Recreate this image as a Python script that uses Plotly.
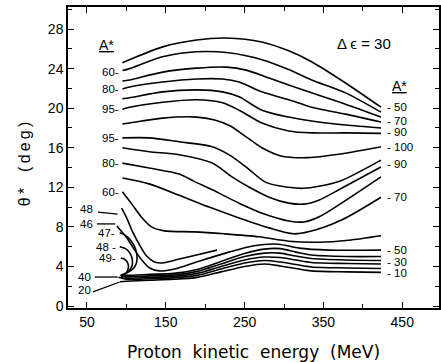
import plotly.graph_objects as go

# ---------------- data (x: proton kinetic energy MeV, y: theta* deg) ----------------
# upper family
x_c1 = [95, 104, 146, 189, 227, 272, 306, 335, 378, 423]
y_c1 = [24.6, 24.9, 26.2, 26.9, 27.1, 26.7, 25.8, 24.7, 22.55, 20.1]
x_c2 = [95, 104, 146, 189, 230, 272, 306, 335, 378, 423]
y_c2 = [23.8, 24.0, 25.2, 25.7, 25.6, 24.9, 23.9, 22.85, 21.55, 19.6]
x_c3 = [95, 104, 146, 189, 227, 252, 281, 306, 335, 378, 423]
y_c3 = [22.75, 22.85, 23.65, 24.05, 24.15, 23.85, 23.05, 22.35, 21.55, 20.4, 19.1]
x_c4 = [95, 104, 146, 189, 222, 243, 272, 306, 335, 378, 423]
y_c4 = [21.95, 22.15, 22.65, 22.95, 22.95, 22.65, 21.65, 20.85, 20.1, 19.4, 18.6]
x_c5 = [95, 104, 146, 189, 222, 243, 272, 306, 335, 378, 423]
y_c5 = [20.95, 21.05, 21.65, 21.85, 21.65, 21.15, 19.8, 19.1, 18.7, 18.3, 18.0]
x_c6 = [95, 104, 146, 189, 222, 243, 272, 306, 335, 378, 423]
y_c6 = [19.9, 20.1, 20.6, 20.85, 20.55, 19.8, 18.5, 17.7, 17.5, 17.5, 17.45]
# middle (U-shaped) family
x_c7 = [95, 104, 146, 189, 212, 232, 252, 272, 295, 330, 378, 423]
y_c7 = [18.4, 18.5, 19.0, 19.1, 18.8, 18.2, 17.1, 16.0, 15.2, 15.0, 15.45, 16.1]
x_c8 = [95, 129, 167, 209, 230, 252, 277, 306, 325, 344, 373, 423]
y_c8 = [17.0, 17.0, 16.6, 16.1, 15.3, 14.05, 12.5, 12.0, 11.9, 12.1, 12.7, 14.75]
x_c9 = [95, 129, 167, 209, 234, 256, 281, 306, 325, 344, 373, 423]
y_c9 = [16.0, 15.6, 15.3, 14.45, 13.05, 12.0, 11.0, 10.4, 10.3, 10.7, 11.9, 14.05]
x_c10 = [95, 129, 167, 186, 209, 243, 275, 306, 325, 344, 373, 423]
y_c10 = [14.45, 13.95, 13.35, 12.6, 11.75, 10.4, 9.3, 8.6, 8.5, 9.0, 10.4, 13.05]
x_c11 = [95, 129, 167, 205, 243, 281, 312, 331, 373, 423]
y_c11 = [12.95, 12.35, 11.2, 10.0, 8.9, 7.9, 7.3, 7.5, 8.7, 11.0]
x_c12 = [95, 107, 119, 132, 148, 186, 224, 268, 306, 344, 382, 423]
y_c12 = [11.55, 10.3, 9.0, 8.0, 7.6, 7.5, 7.3, 7.0, 6.55, 6.45, 6.65, 7.1]
# lower family
x_48a = [94, 100.5, 108, 117, 125.7, 135.8, 145.9, 167, 189, 215]
y_48a = [9.9, 8.9, 7.5, 6.15, 5.05, 4.45, 4.35, 4.75, 5.15, 5.65]
x_46 = [88, 100.5, 110.6, 120.7, 129.5, 142, 161, 189, 230, 262, 293, 319, 357, 423]
y_46 = [8.1, 6.9, 5.65, 4.55, 3.85, 3.55, 3.75, 4.45, 5.45, 6.1, 6.25, 5.85, 5.65, 5.65]
x_47 = [91.6, 99, 106, 111, 113.5, 113, 109.5, 103, 96, 93, 100, 130, 160, 190, 220, 250, 275, 295, 315, 335, 380, 423]
y_47 = [7.4, 7.15, 6.6, 5.9, 5.1, 4.4, 3.85, 3.45, 3.2, 3.15, 3.1, 3.2, 3.3, 3.7, 4.5, 5.3, 5.75, 5.8, 5.45, 5.15, 5.0, 5.0]
x_48b = [91.6, 99, 104.5, 107.5, 107.5, 104, 98, 93.5, 100, 130, 160, 190, 220, 250, 275, 295, 315, 335, 380, 423]
y_48b = [6.0, 5.8, 5.35, 4.75, 4.15, 3.6, 3.25, 3.05, 2.95, 3.05, 3.15, 3.5, 4.25, 5.0, 5.35, 5.35, 5.05, 4.8, 4.65, 4.6]
x_49 = [92.9, 98.5, 102, 102.5, 99.5, 95, 93.5, 100, 130, 160, 190, 220, 250, 275, 295, 315, 335, 380, 423]
y_49 = [4.85, 4.7, 4.3, 3.8, 3.3, 3.0, 2.9, 2.8, 2.9, 3.0, 3.3, 4.0, 4.65, 4.95, 4.9, 4.65, 4.4, 4.3, 4.25]
x_40 = [90, 100, 130, 160, 190, 220, 250, 275, 295, 315, 335, 380, 423]
y_40 = [2.9, 2.7, 2.75, 2.85, 3.1, 3.75, 4.35, 4.6, 4.45, 4.2, 3.95, 3.85, 3.8]
x_20 = [92, 100, 130, 160, 190, 220, 250, 275, 295, 315, 335, 380, 423]
y_20 = [2.45, 2.5, 2.6, 2.7, 2.9, 3.45, 4.0, 4.25, 4.05, 3.8, 3.55, 3.45, 3.4]

curves = [
    (x_c1, y_c1), (x_c2, y_c2), (x_c3, y_c3), (x_c4, y_c4), (x_c5, y_c5), (x_c6, y_c6),
    (x_c7, y_c7), (x_c8, y_c8), (x_c9, y_c9), (x_c10, y_c10), (x_c11, y_c11), (x_c12, y_c12),
    (x_48a, y_48a), (x_46, y_46), (x_47, y_47), (x_48b, y_48b), (x_49, y_49),
    (x_40, y_40), (x_20, y_20),
]

# curve labels
left_labels = ["60-", "80-", "95-", "95-", "80-", "60-", "47-", "48 -", "49-"]
left_label_x = [93, 93, 93, 93, 93, 93, 88, 89, 89]
left_label_y = [23.66, 21.94, 19.92, 16.99, 14.46, 11.53, 7.35, 5.97, 4.85]
lead_labels = ["48", "46", "40", "20"]
lead_label_x = [49, 49, 46.5, 46.5]
lead_label_y = [9.8, 8.3, 2.93, 1.57]
lead_x0 = [64, 62.6, 60, 57.6]
lead_y0 = [9.5, 8.3, 2.93, 1.42]
lead_x1 = [89, 86, 89, 91.6]
lead_y1 = [9.3, 8.3, 2.93, 2.43]
right_labels = ["- 50", "- 70", "- 90", "- 100", "- 90", "- 70", "- 50", "- 30", "- 10"]
right_label_y = [20.12, 18.7, 17.6, 16.08, 14.36, 11.02, 5.66, 4.45, 3.34]
right_label_x = 428

x_ticks = [50, 150, 250, 350, 450]
x_minor = [100, 200, 300, 400]
y_ticks = [0, 4, 8, 12, 16, 20, 24, 28]
y_minor = [2, 6, 10, 14, 18, 22, 26, 30]

FONT = "Liberation Sans, Arial, sans-serif"

fig = go.Figure()
for xs, ys in curves:
    fig.add_trace(go.Scatter(x=xs, y=ys, mode="lines",
                             line=dict(color="black", width=1.6, shape="spline", smoothing=0.8),
                             hoverinfo="skip", showlegend=False))

for t, x, y in zip(left_labels, left_label_x, left_label_y):
    fig.add_annotation(x=x, y=y, text=t, showarrow=False, xanchor="right", yanchor="middle",
                       font=dict(size=11.5, family=FONT, color="black"))
for t, x, y in zip(lead_labels, lead_label_x, lead_label_y):
    fig.add_annotation(x=x, y=y, text=t, showarrow=False, xanchor="center", yanchor="middle",
                       font=dict(size=11.5, family=FONT, color="black"))
for x0, y0, x1, y1 in zip(lead_x0, lead_y0, lead_x1, lead_y1):
    fig.add_shape(type="line", x0=x0, y0=y0, x1=x1, y1=y1, line=dict(color="black", width=1.3))
for t, y in zip(right_labels, right_label_y):
    fig.add_annotation(x=right_label_x, y=y, text=t, showarrow=False, xanchor="left", yanchor="middle",
                       font=dict(size=11.5, family=FONT, color="black"))

fig.add_annotation(x=75, y=26.4, text="<u>A*</u>", showarrow=False,
                   font=dict(size=14, family=FONT, color="black"))
fig.add_annotation(x=447, y=22.2, text="<u>A*</u>", showarrow=False,
                   font=dict(size=14, family=FONT, color="black"))
fig.add_annotation(x=401, y=26.5, text="Δ ϵ = 30", showarrow=False,
                   font=dict(size=15, family=FONT, color="black"))

fig.add_annotation(xref="paper", yref="paper", x=-0.145, y=0.48,
                   text="θ\u2009*\u2003(\u2009d\u2009e\u2009g\u2009)",
                   textangle=-90, showarrow=False, font=dict(size=16, family=FONT, color="black"))
fig.add_annotation(xref="paper", yref="paper", x=0.5, y=-0.146, yanchor="middle",
                   text="Proton  kinetic  energy  (MeV)", showarrow=False,
                   font=dict(size=17, family="DejaVu Sans", color="black"))

axis_common = dict(showgrid=False, zeroline=False, showline=True, linecolor="black", linewidth=1.5,
                   mirror="ticks", ticks="inside", ticklen=6, tickwidth=1.3, tickcolor="black",
                   tickfont=dict(size=14, family=FONT, color="black"))
fig.update_xaxes(range=[26, 496.6], tickvals=x_ticks,
                 minor=dict(tickvals=x_minor, ticks="inside", ticklen=4, tickcolor="black", tickwidth=1.2),
                 **axis_common)
fig.update_yaxes(range=[-0.2, 30.23], tickvals=y_ticks,
                 minor=dict(tickvals=y_minor, ticks="inside", ticklen=4, tickcolor="black", tickwidth=1.2),
                 **axis_common)
fig.update_layout(width=441, height=362, margin=dict(l=68, r=0, t=7, b=54),
                  paper_bgcolor="white", plot_bgcolor="white")
fig.write_html("out.html")
